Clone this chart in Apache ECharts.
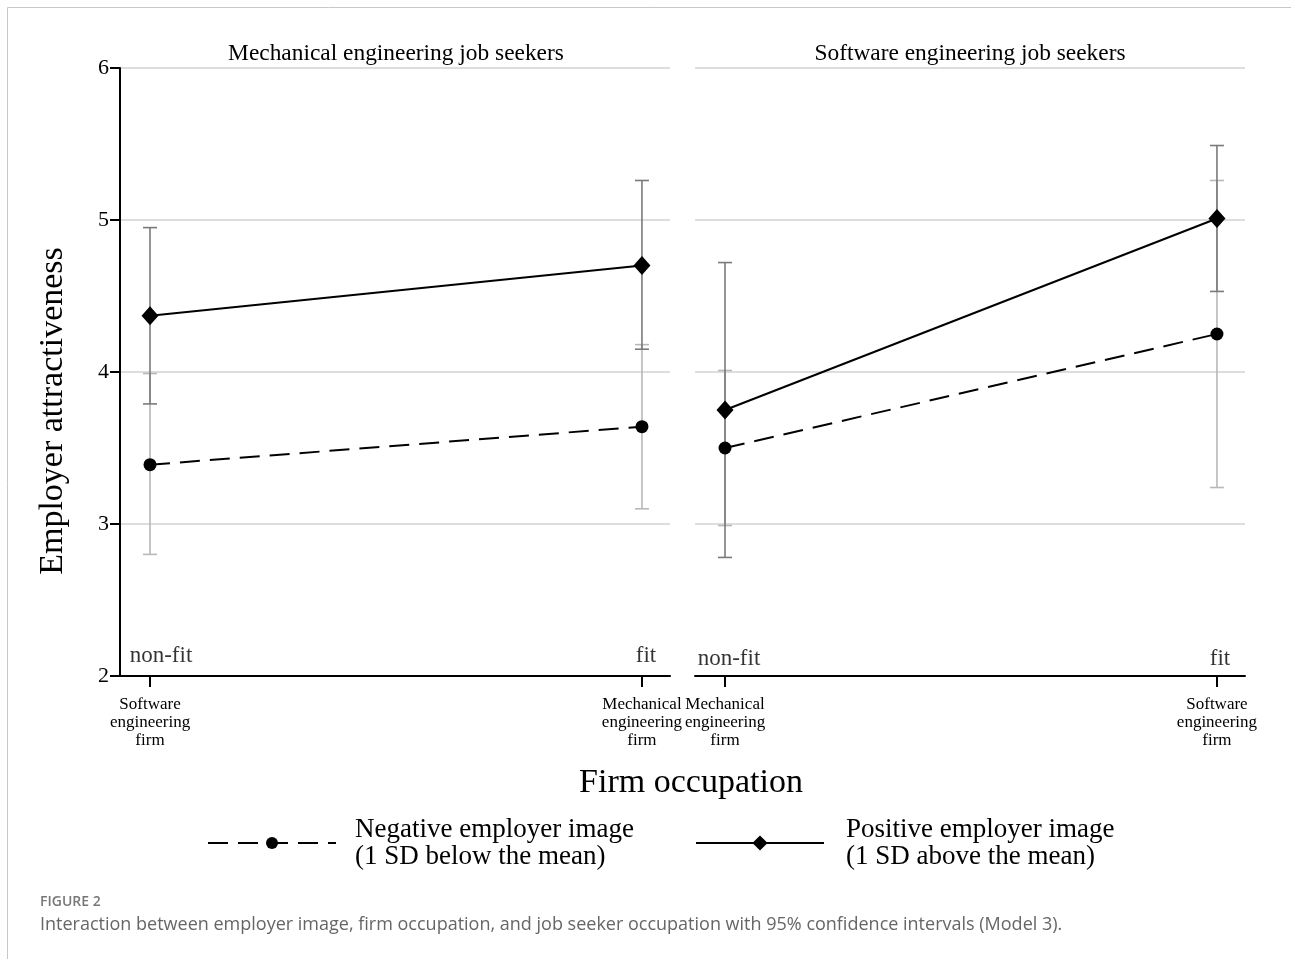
<!DOCTYPE html>
<html>
<head>
<meta charset="utf-8">
<script src="https://cdn.jsdelivr.net/npm/echarts@6/dist/echarts.min.js"></script>
<style>
html,body{margin:0;padding:0;background:#fff;}
#chart{width:1291px;height:959px;}
</style>
</head>
<body>
<div id="chart"></div>
<script>
// ---------- DATA ----------
const panelTitles = ['Mechanical engineering job seekers', 'Software engineering job seekers'];
const xPositions = [0, 1];
const fitLabels = ['non-fit', 'fit'];
const mechFirmLabels = ['Software\nengineering\nfirm', 'Mechanical\nengineering\nfirm'];
const softFirmLabels = ['Mechanical\nengineering\nfirm', 'Software\nengineering\nfirm'];
const yTicks = [2, 3, 4, 5, 6];

// Mechanical engineering job seekers
const mechNeg   = [3.39, 3.64];
const mechNegLo = [2.80, 3.10];
const mechNegHi = [3.99, 4.18];
const mechPos   = [4.37, 4.70];
const mechPosLo = [3.79, 4.15];
const mechPosHi = [4.95, 5.26];

// Software engineering job seekers
const softNeg   = [3.50, 4.25];
const softNegLo = [2.99, 3.24];
const softNegHi = [4.01, 5.26];
const softPos   = [3.75, 5.01];
const softPosLo = [2.78, 4.53];
const softPosHi = [4.72, 5.49];

const legendNames = ['Negative employer image\n(1 SD below the mean)', 'Positive employer image\n(1 SD above the mean)'];
const xAxisTitle = 'Firm occupation';
const yAxisTitle = 'Employer attractiveness';
const captionLabel = 'FIGURE 2';
const captionText = 'Interaction between employer image, firm occupation, and job seeker occupation with 95% confidence intervals (Model 3).';

// ---------- CHART ----------
const SERIF = '"Liberation Serif", "Times New Roman", serif';
const chart = echarts.init(document.getElementById('chart'));

function pts(xs, ys) { return xs.map((x, i) => [x, ys[i]]); }
function bars(xs, lo, hi) { return xs.map((x, i) => [x, lo[i], hi[i]]); }

function errSeries(idx, data, color) {
  return {
    type: 'custom', xAxisIndex: idx, yAxisIndex: idx, silent: true, z: 2,
    data: data,
    renderItem: function (params, api) {
      const lo = api.coord([api.value(0), api.value(1)]);
      const hi = api.coord([api.value(0), api.value(2)]);
      const w = 7;
      const st = { stroke: color, lineWidth: 1.6 };
      return {
        type: 'group',
        children: [
          { type: 'line', shape: { x1: lo[0], y1: lo[1], x2: hi[0], y2: hi[1] }, style: st },
          { type: 'line', shape: { x1: lo[0] - w, y1: lo[1], x2: lo[0] + w, y2: lo[1] }, style: st },
          { type: 'line', shape: { x1: hi[0] - w, y1: hi[1], x2: hi[0] + w, y2: hi[1] }, style: st }
        ]
      };
    }
  };
}

function negLine(idx, data, name) {
  return {
    name: name, type: 'line', xAxisIndex: idx, yAxisIndex: idx, z: 5,
    data: data, symbol: 'circle', symbolSize: 13, showAllSymbol: true,
    lineStyle: { color: '#000', width: 2, type: [20, 10] },
    itemStyle: { color: '#000' }, animation: false
  };
}
function posLine(idx, data, name) {
  return {
    name: name, type: 'line', xAxisIndex: idx, yAxisIndex: idx, z: 6,
    data: data, symbol: 'diamond', symbolSize: [17, 19], showAllSymbol: true,
    lineStyle: { color: '#000', width: 2, type: 'solid' },
    itemStyle: { color: '#000' }, animation: false
  };
}
function fitLabelSeries(idx, offsets) {
  return {
    type: 'scatter', xAxisIndex: idx, yAxisIndex: idx, silent: true, z: 3,
    symbolSize: 1, itemStyle: { color: 'rgba(0,0,0,0)' },
    data: xPositions.map((x, i) => ({
      value: [x, 2],
      label: {
        show: true, position: 'top', distance: 8, offset: offsets[i],
        formatter: fitLabels[i], fontFamily: SERIF, fontSize: 23, color: '#000'
      }
    })),
    animation: false
  };
}

function xAxisDef(idx, labels) {
  return {
    type: 'value', gridIndex: idx, min: -0.061, max: 1.057,
    axisLine: { show: true, onZero: false, lineStyle: { color: '#000', width: 2 } },
    axisTick: { show: true, customValues: xPositions, length: 11, lineStyle: { color: '#000', width: 2 } },
    axisLabel: {
      show: true, customValues: xPositions, margin: 20,
      formatter: v => labels[xPositions.indexOf(v)] || '',
      fontFamily: SERIF, fontSize: 17, lineHeight: 18, color: '#000', align: 'center'
    },
    splitLine: { show: false }
  };
}
function yAxisDef(idx, showAxis) {
  return {
    type: 'value', gridIndex: idx, min: 2, max: 6, interval: 1,
    axisLine: { show: showAxis, onZero: false, lineStyle: { color: '#000', width: 2 } },
    axisTick: { show: showAxis, length: 10, lineStyle: { color: '#000', width: 2 } },
    axisLabel: {
      show: showAxis, margin: 11, fontFamily: SERIF, fontSize: 22, color: '#000',
      formatter: v => yTicks.indexOf(v) >= 0 ? String(v) : ''
    },
    splitLine: { show: true, lineStyle: { color: '#dddddd', width: 2 } },
    name: showAxis ? yAxisTitle : '',
    nameLocation: 'middle', nameGap: 50, nameRotate: 90,
    nameTextStyle: { fontFamily: SERIF, fontSize: 34, color: '#000', padding: [0, 78, 0, 0] }
  };
}

const option = {
  backgroundColor: '#fff',
  animation: false,
  title: [
    { text: panelTitles[0], left: 391, top: 37, textAlign: 'center',
      textStyle: { fontFamily: SERIF, fontSize: 23.4, fontWeight: 'normal', color: '#000' } },
    { text: panelTitles[1], left: 965, top: 37, textAlign: 'center',
      textStyle: { fontFamily: SERIF, fontSize: 23.4, fontWeight: 'normal', color: '#000' } },
    { text: xAxisTitle, left: 686, top: 761, textAlign: 'center',
      textStyle: { fontFamily: SERIF, fontSize: 34, fontWeight: 'normal', color: '#000' } }
  ],
  grid: [
    { left: 120, right: 621, top: 68, bottom: 283 },
    { left: 695, right: 46, top: 68, bottom: 283 }
  ],
  xAxis: [xAxisDef(0, mechFirmLabels), xAxisDef(1, softFirmLabels)],
  yAxis: [yAxisDef(0, true), yAxisDef(1, false)],
  legend: [
    { data: [legendNames[0]], left: 207, top: 816, padding: 0, itemWidth: 128, itemHeight: 15, itemGap: 20,
      textStyle: { fontFamily: SERIF, fontSize: 27, lineHeight: 27, color: '#000', padding: [0, 0, 0, 14] }, selectedMode: false },
    { data: [legendNames[1]], left: 695, top: 816, padding: 0, itemWidth: 128, itemHeight: 19, itemGap: 20,
      textStyle: { fontFamily: SERIF, fontSize: 27, lineHeight: 27, color: '#000', padding: [0, 0, 0, 17] }, selectedMode: false }
  ],
  graphic: [
    { type: 'rect', shape: { x: 7.5, y: 7.5, width: 1400, height: 1100 },
      style: { fill: 'none', stroke: '#c8c8c8', lineWidth: 1 }, silent: true, z: -1 },
    { type: 'text', left: 40, top: 895,
      style: { text: captionLabel, font: '600 14px "Open Sans", sans-serif', fill: '#777777' } },
    { type: 'text', left: 40, top: 916,
      style: { text: captionText, font: '18px "Open Sans", sans-serif', fill: '#666666' } }
  ],
  series: [
    errSeries(0, bars(xPositions, mechNegLo, mechNegHi), '#b8b8b8'),
    errSeries(0, bars(xPositions, mechPosLo, mechPosHi), '#7a7a7a'),
    errSeries(1, bars(xPositions, softNegLo, softNegHi), '#b8b8b8'),
    errSeries(1, bars(xPositions, softPosLo, softPosHi), '#7a7a7a'),
    negLine(0, pts(xPositions, mechNeg), legendNames[0]),
    posLine(0, pts(xPositions, mechPos), legendNames[1]),
    negLine(1, pts(xPositions, softNeg), legendNames[0]),
    posLine(1, pts(xPositions, softPos), legendNames[1]),
    fitLabelSeries(0, [[11, 0], [4, 0]]),
    fitLabelSeries(1, [[4, 3], [3, 3]])
  ]
};
chart.setOption(option);
</script>
</body>
</html>
